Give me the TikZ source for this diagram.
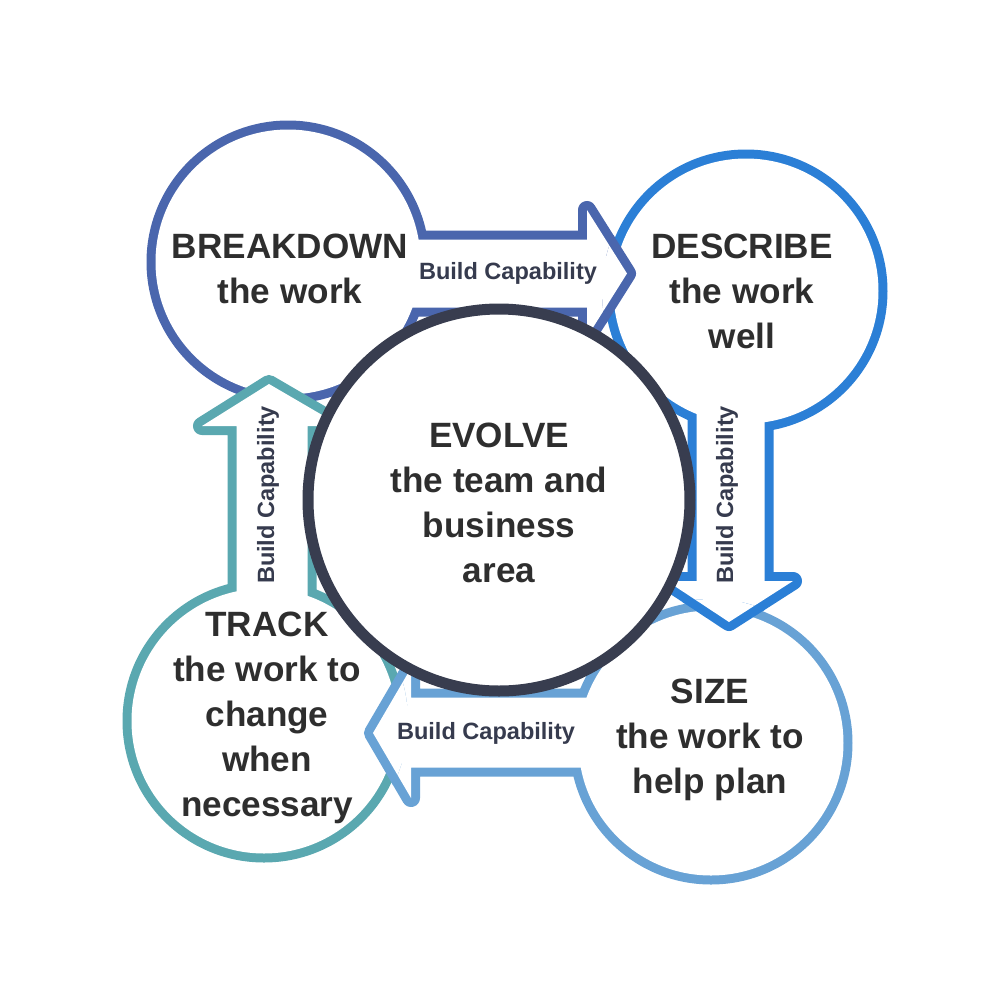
\documentclass[tikz,border=0pt]{standalone}
\usepackage{fontspec}
\setmainfont{Liberation Sans}
\definecolor{cA}{HTML}{4A66AD}
\definecolor{cB}{HTML}{2B7FD6}
\definecolor{cC}{HTML}{68A2D5}
\definecolor{cD}{HTML}{5AA8B0}
\definecolor{cE}{HTML}{383D4F}
\definecolor{txt}{HTML}{2E2E2E}
\definecolor{lbl}{HTML}{363B4E}
\newcommand\ArrA[1]{\path[#1] (300,239.5) -- (587,239.5) -- (587,210) -- (627,273.5) -- (587,337) -- (587,307.5) -- (300,307.5) -- cycle;}
\newcommand\ArrB[1]{\path[#1] (696.5,300) -- (696.5,581) -- (667,581) -- (729,622) -- (793,581) -- (764.5,581) -- (764.5,300) -- cycle;}
\newcommand\ArrC[1]{\path[#1] (700,697.5) -- (411,697.5) -- (411,668) -- (373,733) -- (411,798) -- (411,767.5) -- (700,767.5) -- cycle;}
\newcommand\ArrD[1]{\path[#1] (236.5,720) -- (236.5,426) -- (202,426) -- (269,384) -- (341,426) -- (307.5,426) -- (307.5,720) -- cycle;}
\begin{document}
\begin{tikzpicture}[x=0.1mm,y=-0.1mm,
  edge/.style={line width=1.8mm, line join=round},
  main/.style={font=\bfseries\fontsize{10}{12.8}\selectfont, text=txt, align=center},
  lab/.style={font=\bfseries\fontsize{6.7}{8}\selectfont, text=lbl, inner sep=0pt}]
\useasboundingbox (0,0) rectangle (1000,1000);
\fill[white] (0,0) rectangle (1000,1000);
\coordinate (c1) at (288,262);
\coordinate (c2) at (746,291);
\coordinate (c3) at (711,743);
\coordinate (c4) at (264,721);
\coordinate (c0) at (499,500);
% shape 1
\draw[edge, cA] (c1) circle (13.25mm);
\ArrA{draw=cA, edge}
\fill[white] (c1) circle (13.25mm);
\ArrA{fill=white}
% shape 2
\draw[edge, cB] (c2) circle (13.25mm);
\ArrB{draw=cB, edge}
\fill[white] (c2) circle (13.25mm);
\ArrB{fill=white}
% shape 3
\draw[edge, cC] (c3) circle (13.25mm);
\ArrC{draw=cC, edge}
\fill[white] (c3) circle (13.25mm);
\ArrC{fill=white}
% shape 4
\draw[edge, cD] (c4) circle (13.25mm);
\ArrD{draw=cD, edge}
\fill[white] (c4) circle (13.25mm);
\ArrD{fill=white}
% heads over next circles
\begin{scope}
\clip (c2) circle (14.4mm);
\ArrA{draw=cA, edge}
\ArrA{fill=white}
\end{scope}
\begin{scope}
\clip (c3) circle (14.4mm);
\ArrB{draw=cB, edge}
\ArrB{fill=white}
\end{scope}
\begin{scope}
\clip (c4) circle (14.4mm);
\ArrC{draw=cC, edge}
\ArrC{fill=white}
\end{scope}
% central circle
\draw[line width=1.1mm, cE, fill=white] (c0) circle (19.1mm);
% texts
\node[main] (tbd) at (290,269) {BREAKDOWN\\the work};
\node[main] (tds) at (742,291) {DESCRIBE\\the work\\well};
\node[main] (tev) at (499,503) {EVOLVE\\the team and\\business\\area};
\node[main] (ttr) at (267,718) {TRACK\\the work to\\change\\when\\necessary};
\node[main] (tsz) at (710,740) {SIZE\\the work to\\help plan};
\node[lab] (l1) at (508,273) {Build Capability};
\node[lab, rotate=90] (l2) at (727,495) {Build Capability};
\node[lab] (l3) at (486,733) {Build Capability};
\node[lab, rotate=90] (l4) at (268,495) {Build Capability};
\end{tikzpicture}
\end{document}
